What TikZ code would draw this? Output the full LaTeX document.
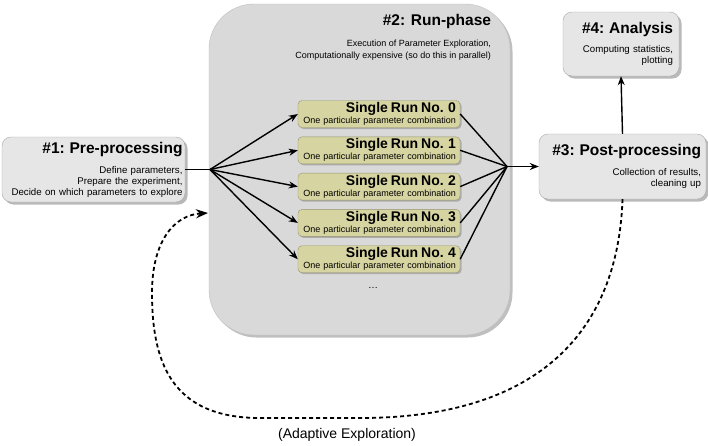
\documentclass[tikz,border=0pt]{standalone}
\usepackage{fontspec}
\setmainfont{Liberation Sans}
\usepackage{tikz}
\usetikzlibrary{arrows.meta,shadows}
\definecolor{boxgray}{HTML}{E6E6E6}
\definecolor{phasegray}{HTML}{D9D9D9}
\definecolor{runkhaki}{HTML}{D6D4A1}
\definecolor{edgegray}{HTML}{A8A8A8}
\newcommand{\phasetitle}[1]{{\fontsize{15.5}{16}\selectfont\bfseries #1}}
\newcommand{\runtitle}[1]{{\fontsize{14}{14}\selectfont\bfseries #1}}

\begin{document}
\begin{tikzpicture}[x=1pt, y=-1pt,
    phase/.style={rectangle, rounded corners=9pt, draw=edgegray, fill=boxgray,
      align=right, inner ysep=3pt, font=\fontsize{9.7}{11}\selectfont,
      drop shadow={shadow xshift=2.5pt, shadow yshift=-2.5pt, fill=black!55}},
    runbox/.style={rectangle, rounded corners=4pt, draw=runkhaki!70!black, fill=runkhaki,
      align=right, inner xsep=4pt, inner ysep=1pt, minimum height=27pt, text width=154pt,
      font=\fontsize{9}{11}\selectfont,
      drop shadow={shadow xshift=1.5pt, shadow yshift=-1.5pt, fill=black!50}},
    link/.style={line width=1.4pt},
    arrow/.style={link, -{Stealth[length=9pt, width=7pt]}},
    loop/.style={line width=1.8pt, dash pattern=on 4pt off 3pt,
      -{Stealth[length=12pt, width=9pt]}}]
  \useasboundingbox (0,0) rectangle (708,445);

  \node[rectangle, rounded corners=45pt, draw=black!25, fill=phasegray,
        minimum width=301pt, minimum height=331pt,
        drop shadow={shadow xshift=2.5pt, shadow yshift=-2.5pt, fill=black!50}]
        (run) at (359.5,169.5) {};
  \node[anchor=north east, align=right, inner sep=6pt, font=\fontsize{9}{12}\selectfont]
        (runlabel) at ([xshift=-13pt, yshift=-4pt]run.north east)
        {\phasetitle{\#2: Run-phase}\\[9pt]
         Execution of Parameter Exploration,\\
         Computationally expensive (so do this in parallel)};

  \node[phase, text width=178pt, inner xsep=2.5pt, minimum height=65pt] (pre) at (93.5,169.5)
        {\phasetitle{\#1: Pre-processing}\\[9pt]
         Define parameters,\\ Prepare the experiment,\\ Decide on which parameters to explore};
  \node[phase, text width=157pt, inner xsep=5pt, minimum height=65pt] (post) at (622.5,166.5)
        {\phasetitle{\#3: Post-processing}\\[9pt]
         Collection of results,\\ cleaning up};
  \node[phase, text width=104pt, inner xsep=6pt, minimum height=64pt] (ana) at (621,44)
        {\phasetitle{\#4: Analysis}\\[8pt]
         Computing statistics,\\ plotting};

  \foreach \i in {0,...,4}
    \node[runbox] (run\i) at (379,114+36.3*\i)
          {\runtitle{Single Run No. \i}\\ One particular parameter combination};
  \node (more) at (373,288) {\ldots};

  \coordinate (fanin) at (210,169.5);
  \coordinate (fanout) at (507,166.5);
  \coordinate (loopend) at (208,213);

  \draw[link] (pre.east) -- (fanin);
  \foreach \i in {0,...,4} {
    \draw[arrow] (fanin) -- (run\i.west);
    \draw[link] (run\i.east) -- (fanout);
  }
  \draw[arrow] (fanout) -- (post.west);
  \draw[arrow] (post.north) -- (ana.south);

  \draw[loop] (post.south) .. controls (618,330) and (540,418) .. (360,418)
    -- (260,418) .. controls (170,418) and (152,360) .. (152,293)
    .. controls (152,240) and (175,215) .. (loopend);
  \node (adaptive) at (347,435) {\fontsize{14}{14}\selectfont (Adaptive Exploration)};
\end{tikzpicture}
\end{document}
